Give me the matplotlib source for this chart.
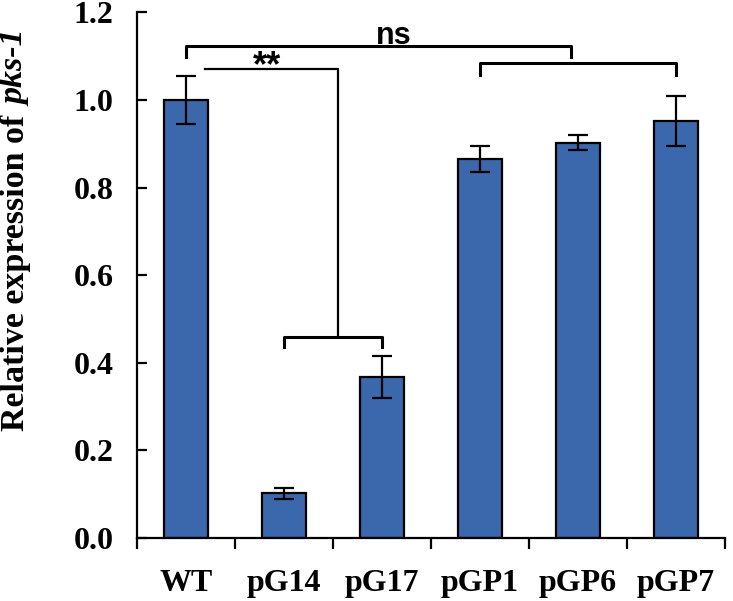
import matplotlib
matplotlib.use("Agg")
import matplotlib.pyplot as plt
import numpy as np

categories = ["WT", "pG14", "pG17", "pGP1", "pGP6", "pGP7"]
values = [1.0, 0.102, 0.367, 0.865, 0.902, 0.952]
errors = [0.054, 0.012, 0.048, 0.030, 0.017, 0.058]
yticks = [0.0, 0.2, 0.4, 0.6, 0.8, 1.0, 1.2]

bar_color = "#3B68AC"
serif = "Liberation Serif"
sans = "Liberation Sans"

fig = plt.figure(figsize=(7.33, 6.01), dpi=100)
W, H = 733, 601
ax = fig.add_axes([137/W, 1-538/H, 588/W, 525.7/H])

x = np.arange(len(categories))
ax.bar(x, values, width=0.45, color=bar_color, edgecolor="black", linewidth=1.6, zorder=2)
ax.errorbar(x, values, yerr=errors, fmt="none", ecolor="black", elinewidth=1.6,
            capsize=7.5, capthick=1.6, zorder=3)

ax.set_xlim(-0.5, len(categories) - 0.5)
ax.set_ylim(0, 1.2)
ax.set_yticks(yticks)
ax.set_yticklabels([f"{t:.1f}" for t in yticks], fontfamily=serif, fontweight="bold", fontsize=23)
ax.set_xticks(x)
ax.set_xticklabels(categories, fontfamily=serif, fontweight="bold", fontsize=23)
ax.set_xticks(np.arange(len(categories) + 1) - 0.5, minor=True)
ax.tick_params(axis="x", which="major", length=0, pad=22)
ax.tick_params(axis="x", which="minor", length=8, width=1.6, direction="out")
ax.tick_params(axis="y", which="major", length=7, width=1.6, direction="in", pad=17)
for s in ["top", "right"]:
    ax.spines[s].set_visible(False)
for s in ["left", "bottom"]:
    ax.spines[s].set_linewidth(1.6)

# y label: bold upright part + bold italic gene name, centred together
fs_lab = 24.5
xc = 16 / W
lab1 = fig.text(xc, 0.5, "Relative expression of ", rotation=90, fontfamily=serif,
                fontweight="bold", fontsize=fs_lab, ha="center", va="bottom")
lab2 = fig.text(xc, 0.5, "pks-1", rotation=90, fontfamily=serif,
                fontweight="bold", fontstyle="italic", fontsize=fs_lab, ha="center", va="bottom")
fig.canvas.draw()
r = fig.canvas.get_renderer()
h1 = lab1.get_window_extent(r).height
h2 = lab2.get_window_extent(r).height
total = h1 + h2
center_px = H - 231
y0 = center_px - total / 2
lab1.set_position((xc, y0 / H))
lab2.set_position((xc, (y0 + h1) / H))

lw = 2.2
# ns brackets
ax.plot([0, 0, 3.93, 3.93], [1.098, 1.123, 1.123, 1.098], color="black", lw=lw, clip_on=False)
ax.plot([3, 3, 5, 5], [1.057, 1.084, 1.084, 1.057], color="black", lw=lw, clip_on=False)
ax.text(2.12, 1.128, "ns", fontfamily=sans, fontweight="bold", fontsize=22,
        ha="center", va="baseline", clip_on=False)
# ** brackets
ax.plot([0.19, 1.55, 1.55], [1.071, 1.071, 0.459], color="black", lw=1.6, clip_on=False)
ax.plot([1, 1, 2, 2], [0.436, 0.459, 0.459, 0.436], color="black", lw=lw)
ax.text(0.83, 1.055, "**", fontfamily=sans, fontweight="bold", fontsize=26,
        ha="center", va="baseline", clip_on=False)

fig.savefig("out.png", dpi=100)
